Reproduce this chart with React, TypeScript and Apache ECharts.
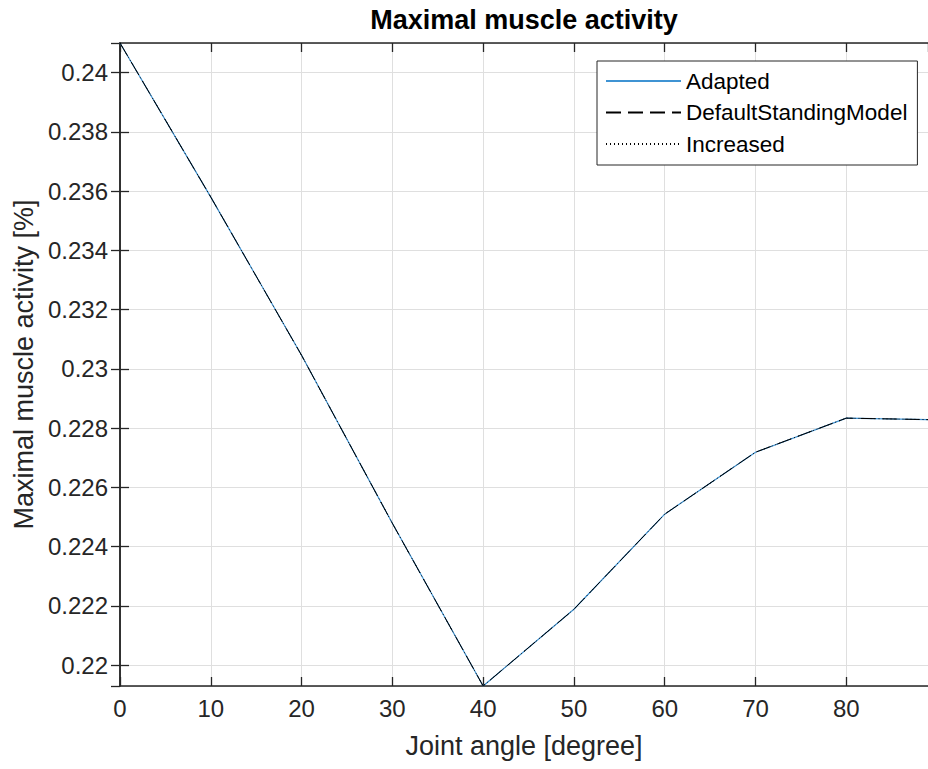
import React, { useEffect, useRef } from "react";
import * as echarts from "echarts";

const jointAngles = [0, 10, 20, 30, 40, 50, 60, 70, 80, 89];
const adapted = [0.241, 0.2358, 0.23046, 0.22479, 0.2193, 0.22189, 0.2251, 0.22719, 0.22834, 0.22829];
const defaultStanding = [0.241, 0.2358, 0.23046, 0.22479, 0.2193, 0.22189, 0.2251, 0.22719, 0.22834, 0.22829];
const increased = [0.241, 0.2358, 0.23046, 0.22479, 0.2193, 0.22189, 0.2251, 0.22719, 0.22834, 0.22829];
const seriesNames = ["Adapted", "DefaultStandingModel", "Increased"];

const FONT = "'Liberation Sans', Arial, Helvetica, sans-serif";
const AX = "#262626";
const GRID = "#dfdfdf";
const BLUE = "#3f93d3";

const toPairs = (ys: number[]) => jointAngles.map((x, i) => [x, ys[i]]);

export default function App() {
  const ref = useRef<HTMLDivElement>(null);
  useEffect(() => {
    if (!ref.current) return;
    const chart = echarts.init(ref.current, undefined, { renderer: "svg" });
    const axisLine = { show: true, lineStyle: { color: AX, width: 1.5 } };
    const axisTick = { show: true, inside: true, length: 9, lineStyle: { color: AX, width: 1.3 } };
    chart.setOption({
      animation: false,
      backgroundColor: "#ffffff",
      textStyle: { fontFamily: FONT },
      title: {
        text: "Maximal muscle activity",
        left: 524,
        top: 6,
        padding: 0,
        textAlign: "center",
        textStyle: { fontFamily: FONT, fontSize: 27, fontWeight: "bold", color: "#000000", lineHeight: 27 },
      },
      legend: {
        orient: "vertical",
        left: 597,
        top: 61,
        padding: [8.5, 10, 9.5, 8],
        itemWidth: 75,
        itemHeight: 14,
        itemGap: 8.5,
        backgroundColor: "#ffffff",
        borderColor: AX,
        borderWidth: 1,
        borderRadius: 0,
        itemStyle: { opacity: 0 },
        textStyle: { fontFamily: FONT, fontSize: 22.5, lineHeight: 22, color: "#000000" },
        data: seriesNames,
      },
      grid: { left: 120, top: 43, right: 0, bottom: 83, containLabel: false, outerBoundsMode: "none" },
      xAxis: [
        {
          type: "value",
          min: 0,
          max: 89,
          interval: 10,
          position: "bottom",
          name: "Joint angle [degree]",
          nameLocation: "middle",
          nameGap: 46,
          nameTextStyle: { fontFamily: FONT, fontSize: 27, color: AX, lineHeight: 27 },
          axisLine,
          axisTick,
          axisLabel: { show: true, margin: 10, fontFamily: FONT, fontSize: 24, color: AX, showMaxLabel: false, showMinLabel: true },
          splitLine: { show: true, lineStyle: { color: GRID, width: 1 } },
        },
        {
          type: "value",
          min: 0,
          max: 89,
          interval: 10,
          position: "top",
          axisLine,
          axisTick,
          axisLabel: { show: false },
          splitLine: { show: false },
        },
      ],
      yAxis: [
        {
          type: "value",
          min: 0.2193,
          max: 0.241,
          splitNumber: 10,
          position: "left",
          name: "Maximal muscle activity [%]",
          nameLocation: "middle",
          nameGap: 82,
          nameTextStyle: { fontFamily: FONT, fontSize: 27, color: AX, lineHeight: 27 },
          axisLine,
          axisTick,
          axisLabel: {
            show: true,
            margin: 12,
            fontFamily: FONT,
            fontSize: 24,
            color: AX,
            showMinLabel: false,
            showMaxLabel: false,
            formatter: (v: number) => String(+v.toFixed(4)),
          },
          splitLine: { show: true, lineStyle: { color: GRID, width: 1 } },
        },
        {
          type: "value",
          min: 0.2193,
          max: 0.241,
          splitNumber: 10,
          position: "right",
          axisLine,
          axisTick,
          axisLabel: { show: false },
          splitLine: { show: false },
        },
      ],
      series: [
        {
          name: seriesNames[0],
          type: "line",
          data: toPairs(adapted),
          symbol: "none",
          showSymbol: false,
          lineStyle: { color: BLUE, width: 1.2, type: "solid" },
          itemStyle: { color: BLUE },
          z: 2,
        },
        {
          name: seriesNames[1],
          type: "line",
          data: toPairs(defaultStanding),
          symbol: "none",
          showSymbol: false,
          lineStyle: { color: "#000000", width: 1, type: [15, 7] },
          itemStyle: { color: "#000000" },
          z: 3,
        },
        {
          name: seriesNames[2],
          type: "line",
          data: toPairs(increased),
          symbol: "none",
          showSymbol: false,
          lineStyle: { color: "#000000", width: 1, type: [1, 3] },
          itemStyle: { color: "#000000" },
          z: 4,
        },
      ],
    });
    return () => chart.dispose();
  }, []);
  return (
    <div
      ref={ref}
      style={{ position: "fixed", left: 0, top: 0, width: 928, height: 769 }}
    />
  );
}
